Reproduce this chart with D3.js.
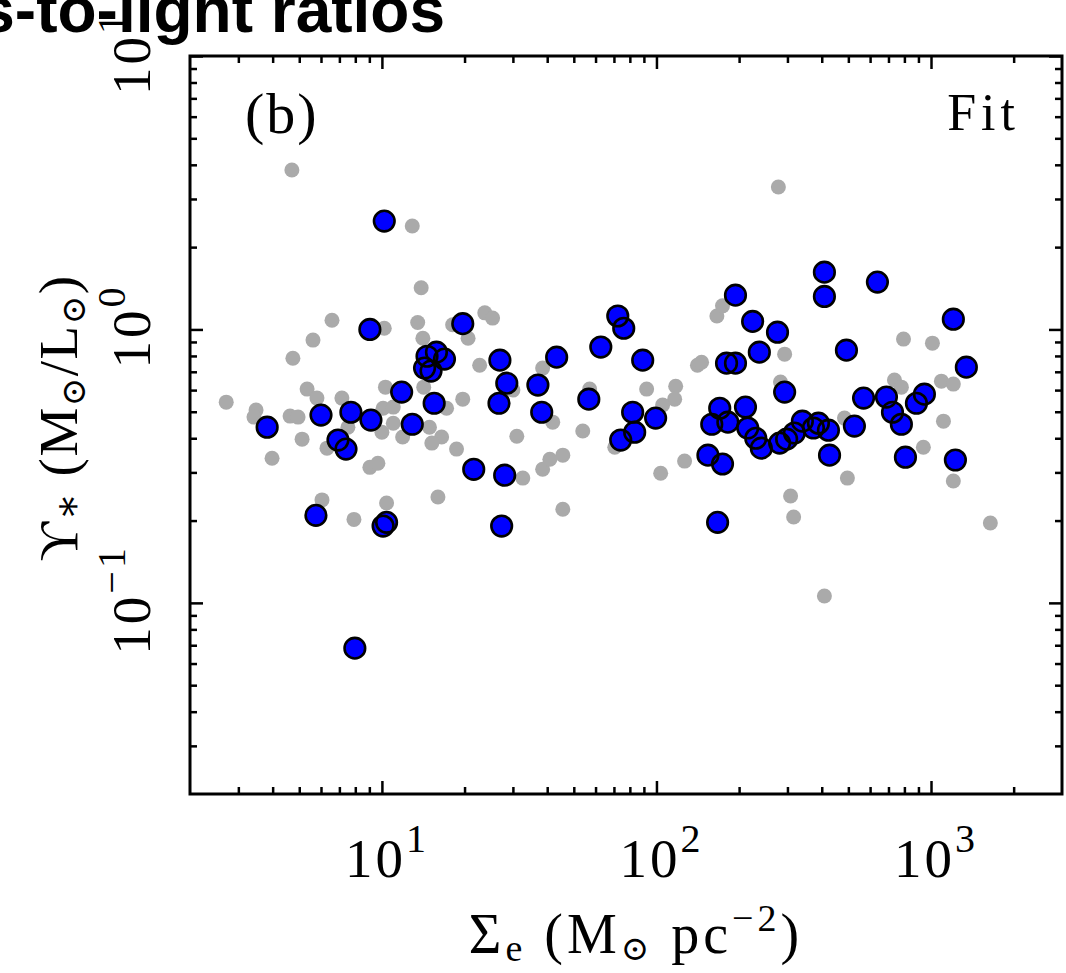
<!DOCTYPE html>
<html>
<head>
<meta charset="utf-8">
<script src="https://cdn.jsdelivr.net/npm/d3@7"></script>
<style>
  html, body { margin: 0; padding: 0; background: #fff; overflow: hidden; }
  svg { display: block; }
  .serif { font-family: "Liberation Serif", "DejaVu Serif", serif; fill: #000; }
</style>
</head>
<body>
<div id="chart"></div>
<script>
// fitted sample (blue) and full sample (grey)
const fitSigma = [3.82, 6.00, 6.92, 7.40, 7.71, 9.12, 5.75, 7.97, 9.04, 10.2,
  10.1, 10.4, 11.8, 12.9, 15.5, 14.6, 15.8, 16.9, 14.3, 15.1,
  19.7, 21.6, 26.9, 28.5, 26.7, 28.0, 27.3, 37.0, 38.2, 43.3,
  56.7, 62.7, 72.3, 76.0, 74.1, 83.3, 81.9, 89.1, 99.3, 154,
  174, 159, 170, 182, 167, 180, 194, 194, 211, 215,
  224, 230, 241, 237, 276, 281, 293, 298, 318, 340,
  373, 389, 423, 409, 409, 638, 492, 427, 526, 568,
  688, 724, 780, 885, 946, 807, 1206, 1345, 1227];
const fitUpsilon = [0.439, 0.486, 0.394, 0.365, 0.498, 0.466, 0.209, 0.0683, 1.00, 2.49,
  0.191, 0.197, 0.590, 0.450, 0.537, 0.798, 0.826, 0.779, 0.722, 0.704,
  1.05, 0.308, 0.772, 0.636, 0.537, 0.293, 0.191, 0.626, 0.498, 0.792,
  0.556, 0.862, 1.12, 1.01, 0.394, 0.421, 0.498, 0.772, 0.474, 0.347,
  0.322, 0.450, 0.515, 0.458, 0.197, 0.753, 0.753, 1.335, 0.520, 0.436,
  1.07, 0.400, 0.368, 0.826, 0.977, 0.384, 0.590, 0.397, 0.418, 0.462,
  0.436, 0.454, 0.428, 1.62, 1.32, 1.49, 0.840, 0.347, 0.443, 0.561,
  0.566, 0.498, 0.450, 0.537, 0.580, 0.341, 1.09, 0.728, 0.333];

const allSigma = [4.70, 12.9, 13.9, 6.58, 5.61, 4.74, 10.2, 13.5, 14.1, 20.6,
  23.7, 25.3, 18.1, 22.7, 5.34, 5.80, 2.71, 3.48, 3.42, 4.63,
  4.95, 7.15, 10.3, 14.2, 19.7, 10.1, 11.0, 17.2, 14.9, 5.12,
  6.31, 3.98, 11.0, 10.0, 11.9, 16.5, 15.2, 18.7, 7.52, 9.04,
  9.67, 16.0, 6.05, 7.91, 10.4, 30.0, 38.5, 31.0, 41.9, 53.9,
  57.1, 32.6, 38.5, 40.9, 45.6, 45.6, 92.1, 117.5, 116.5, 105.3,
  70.5, 103.6, 126.6, 141, 146, 166, 174, 293, 283, 794,
  1012, 736, 780, 1091, 1206, 484, 1110, 938, 496, 1206,
  308, 316, 1645, 409, 278];
const allUpsilon = [3.83, 2.39, 1.42, 1.08, 0.914, 0.785, 1.01, 1.06, 0.929, 0.929,
  1.15, 1.10, 1.04, 0.740, 0.605, 0.561, 0.542, 0.507, 0.478, 0.482,
  0.478, 0.561, 0.615, 0.615, 0.556, 0.515, 0.520, 0.515, 0.439, 0.397,
  0.368, 0.338, 0.454, 0.421, 0.404, 0.404, 0.384, 0.365, 0.439, 0.313,
  0.324, 0.244, 0.238, 0.202, 0.232, 0.600, 0.722, 0.407, 0.458, 0.425,
  0.605, 0.286, 0.308, 0.335, 0.347, 0.220, 0.605, 0.620, 0.556, 0.529,
  0.371, 0.298, 0.330, 0.740, 0.759, 1.12, 1.22, 0.812, 0.642, 0.922,
  0.891, 0.653, 0.615, 0.647, 0.631, 0.474, 0.462, 0.371, 0.286, 0.279,
  0.246, 0.206, 0.196, 0.106, 3.32];

const xMajor = [10, 100, 1000];
const xMajorExp = ['1', '2', '3'];
const yMajor = [0.1, 1, 10];
const yMajorExp = ['\u22121', '0', '1'];

const width = 1066, height = 973;
const plot = { left: 190, right: 1062, top: 56, bottom: 794 };

const svg = d3.select('#chart').append('svg')
  .attr('width', width)
  .attr('height', height);

// title is cut off on the left in the source image
svg.append('text')
  .attr('x', 445)
  .attr('y', 32)
  .attr('text-anchor', 'end')
  .style('font-family', '"Liberation Sans", Arial, sans-serif')
  .style('font-weight', 'bold')
  .style('font-size', '64px')
  .text('Stellar mass-to-light ratios');

const x = d3.scaleLog().domain([2, 3000]).range([plot.left, plot.right]);
const y = d3.scaleLog().domain([0.02, 10]).range([plot.bottom, plot.top]);

// minor tick positions 2..9 x 10^k inside the domain
function minorTicks(scale) {
  let dom = scale.domain(), out = [];
  for (let k = -3; k <= 4; k++) {
    for (let m = 2; m <= 9; m++) {
      let v = m * Math.pow(10, k);
      if (v > dom[0] * 1.001 && v < dom[1] * 0.999) out.push(v);
    }
  }
  return out;
}
const xMinor = minorTicks(x);
const yMinor = minorTicks(y);

function styleAxis(g) {
  g.select('.domain').remove();
  g.selectAll('.tick line').attr('stroke', '#000').attr('stroke-width', 2.5);
  g.selectAll('.tick text').remove();
}

// ticks on all four sides, pointing inward
[[d3.axisBottom(x), plot.bottom], [d3.axisTop(x), plot.top]].forEach(([ax, pos]) => {
  svg.append('g').attr('transform', `translate(0,${pos})`)
    .call(ax.tickValues(xMinor).tickSize(-7)).call(styleAxis);
  svg.append('g').attr('transform', `translate(0,${pos})`)
    .call(ax.tickValues(xMajor).tickSize(-13)).call(styleAxis);
});
[[d3.axisLeft(y), plot.left], [d3.axisRight(y), plot.right]].forEach(([ax, pos]) => {
  svg.append('g').attr('transform', `translate(${pos},0)`)
    .call(ax.tickValues(yMinor).tickSize(-7)).call(styleAxis);
  svg.append('g').attr('transform', `translate(${pos},0)`)
    .call(ax.tickValues(yMajor).tickSize(-13)).call(styleAxis);
});

// grey points
svg.append('g').selectAll('circle')
  .data(d3.zip(allSigma, allUpsilon))
  .enter().append('circle')
  .attr('cx', d => x(d[0]))
  .attr('cy', d => y(d[1]))
  .attr('r', 7.5)
  .attr('fill', '#aaaaaa');

// blue points: fills first, then outlines so overlapping rings stay visible
const fitData = d3.zip(fitSigma, fitUpsilon);
svg.append('g').selectAll('circle')
  .data(fitData)
  .enter().append('circle')
  .attr('cx', d => x(d[0]))
  .attr('cy', d => y(d[1]))
  .attr('r', 10.3)
  .attr('fill', '#0000ff');
svg.append('g').selectAll('circle')
  .data(fitData)
  .enter().append('circle')
  .attr('cx', d => x(d[0]))
  .attr('cy', d => y(d[1]))
  .attr('r', 10.3)
  .attr('fill', 'none')
  .attr('stroke', '#000')
  .attr('stroke-width', 2.6);

// frame
svg.append('rect')
  .attr('x', plot.left)
  .attr('y', plot.top)
  .attr('width', plot.right - plot.left)
  .attr('height', plot.bottom - plot.top)
  .attr('fill', 'none')
  .attr('stroke', '#000')
  .attr('stroke-width', 3);

// x tick labels
xMajor.forEach((v, i) => {
  let t = svg.append('text').attr('class', 'serif')
    .attr('x', x(v) + 5)
    .attr('y', 877)
    .attr('text-anchor', 'middle')
    .style('font-size', '55px')
    .style('letter-spacing', '3px')
    .text('10');
  t.append('tspan').attr('dy', -25).style('font-size', '40px').text(xMajorExp[i]);
});

// y tick labels, rotated
yMajor.forEach((v, i) => {
  let t = svg.append('text').attr('class', 'serif')
    .attr('transform', `translate(150,${y(v) - 3}) rotate(-90)`)
    .attr('text-anchor', 'middle')
    .style('font-size', '55px')
    .style('letter-spacing', '3px')
    .text('10');
  t.append('tspan').attr('dy', -25).style('font-size', '40px').text(yMajorExp[i]);
});

// x axis title: Sigma_e (M_sun pc^-2)
let xt = svg.append('text').attr('class', 'serif')
  .attr('x', 636)
  .attr('y', 953)
  .attr('text-anchor', 'middle')
  .style('font-size', '56px')
  .style('letter-spacing', '4px');
xt.append('tspan').text('\u03a3');
xt.append('tspan').attr('dy', 8).style('font-size', '38px').text('e');
xt.append('tspan').attr('dy', -8).text(' (M');
xt.append('tspan').attr('dy', 7).style('font-size', '34px').text('\u2299');
xt.append('tspan').attr('dy', -7).text(' pc');
xt.append('tspan').attr('dy', -22).style('font-size', '38px').text('\u22122');
xt.append('tspan').attr('dy', 22).text(')');

// y axis title: Upsilon_* (M_sun / L_sun)
let yt = svg.append('text').attr('class', 'serif')
  .attr('transform', 'translate(77,418) rotate(-90)')
  .attr('text-anchor', 'middle')
  .style('font-size', '55px')
  .style('letter-spacing', '1.5px');
yt.append('tspan').text('\u03d2');
yt.append('tspan').attr('dy', 4).style('font-size', '40px').text('\u2217');
yt.append('tspan').attr('dy', -4).text(' (M');
yt.append('tspan').attr('dy', 8).style('font-size', '34px').text('\u2299');
yt.append('tspan').attr('dy', -8).text('/L');
yt.append('tspan').attr('dy', 8).style('font-size', '34px').text('\u2299');
yt.append('tspan').attr('dy', -8).text(')');

// panel labels
svg.append('text').attr('class', 'serif')
  .attr('x', 245)
  .attr('y', 133)
  .style('font-size', '58px')
  .style('letter-spacing', '2px')
  .text('(b)');
svg.append('text').attr('class', 'serif')
  .attr('x', 1020)
  .attr('y', 130)
  .attr('text-anchor', 'end')
  .style('font-size', '52px')
  .style('letter-spacing', '5px')
  .text('Fit');
</script>
</body>
</html>
